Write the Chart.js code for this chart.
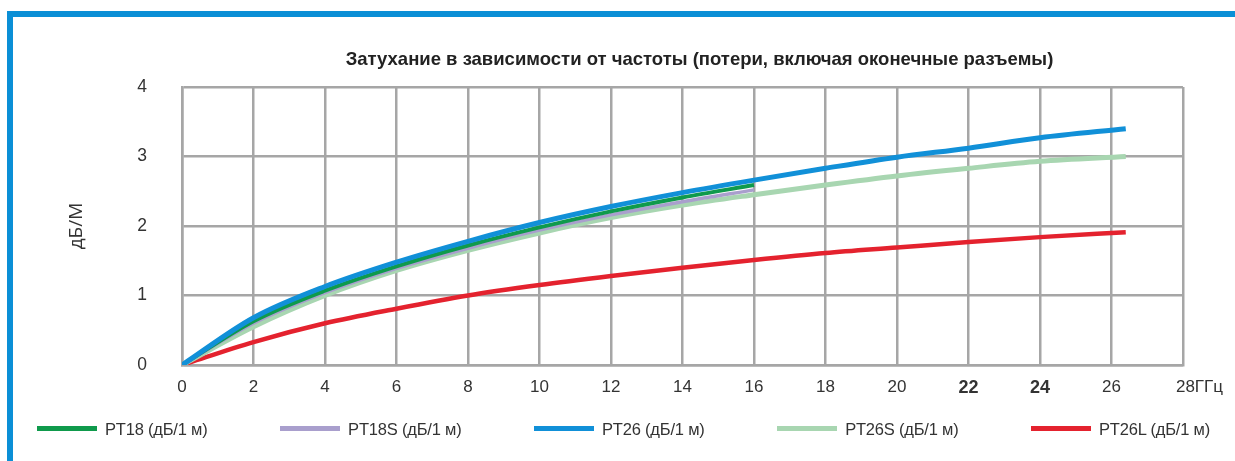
<!DOCTYPE html>
<html>
<head>
<meta charset="utf-8">
<script src="https://cdn.jsdelivr.net/npm/chart.js@4.4.1/dist/chart.umd.min.js"></script>
<style>
  html, body { margin: 0; padding: 0; background: #fff; }
  body { width: 1235px; height: 461px; position: relative; overflow: hidden; font-family: "Liberation Sans", Arial, sans-serif; }
  .frame { position: absolute; left: 7px; top: 11px; width: 1300px; height: 500px; border-left: 6px solid #0b8fd6; border-top: 6px solid #0b8fd6; }
  .chart-box { position: absolute; left: 0; top: 0; width: 1235px; height: 461px; }
  .legend { position: absolute; left: 37px; right: 25px; top: 420px; display: flex; justify-content: space-between; }
  .legend-item { display: flex; align-items: center; font-size: 16.5px; color: #333; letter-spacing: -0.2px; }
  .legend-line { width: 60px; height: 5px; margin-right: 8px; margin-top: -3px; }
</style>
</head>
<body>
<div class="frame"></div>
<div class="chart-box"><canvas id="myChart" width="1235" height="461"></canvas></div>
<div class="legend" id="legend"></div>
<script>
// 데이터
const 제목 = 'Затухание в зависимости от частоты (потери, включая оконечные разъемы)';
const 세로축제목 = 'дБ/М';
const 계열이름 = ['PT18 (дБ/1 м)', 'PT18S (дБ/1 м)', 'PT26 (дБ/1 м)', 'PT26S (дБ/1 м)', 'PT26L (дБ/1 м)'];
const 계열색 = ['#0f9a4c', '#a99fcd', '#1190d8', '#a8d6b1', '#e4222e'];

// 주파수 (ГГц)
const 주파수18 = [0, 2, 4, 6, 8, 10, 12, 14, 16];
const 주파수26 = [0, 2, 4, 6, 8, 10, 12, 14, 16, 18, 20, 22, 24, 26.4];

const pt18 = [0, 0.63, 1.07, 1.42, 1.72, 1.98, 2.21, 2.41, 2.59];
const pt18s = [0, 0.6, 1.04, 1.39, 1.68, 1.94, 2.16, 2.35, 2.52];
const pt26 = [0, 0.68, 1.13, 1.48, 1.78, 2.05, 2.28, 2.48, 2.66, 2.83, 2.99, 3.12, 3.27, 3.40];
const pt26s = [0, 0.55, 1.0, 1.36, 1.65, 1.9, 2.12, 2.3, 2.45, 2.59, 2.72, 2.83, 2.93, 3.0];
const pt26l = [0, 0.33, 0.6, 0.81, 1.0, 1.15, 1.28, 1.4, 1.51, 1.61, 1.69, 1.77, 1.84, 1.91];

const x눈금 = [0, 2, 4, 6, 8, 10, 12, 14, 16, 18, 20, 22, 24, 26, 28];
const y눈금 = [0, 1, 2, 3, 4];

function 점만들기(xs, ys) {
    return xs.map((x, i) => ({ x: x, y: ys[i] }));
}

const 계열값 = [
    점만들기(주파수18, pt18),
    점만들기(주파수18, pt18s),
    점만들기(주파수26, pt26),
    점만들기(주파수26, pt26s),
    점만들기(주파수26, pt26l)
];
const 선굵기 = [4, 3.5, 5, 5, 4.5];
const 그리기순서 = [1, 2, 0, 3, 4];

// 제목은 차트영역 기준으로 직접 그림
const 제목플러그인 = {
    id: 'chartTitle',
    afterDraw(chart) {
        const c = chart.ctx;
        const a = chart.chartArea;
        c.save();
        c.font = 'bold 18.5px "Liberation Sans", Arial, sans-serif';
        c.fillStyle = '#222';
        c.textAlign = 'center';
        c.textBaseline = 'middle';
        c.fillText(제목, (a.left + a.right) / 2 + 17, 60);
        c.restore();
    }
};

const ctx = document.getElementById('myChart').getContext('2d');
const newChart = new Chart(ctx, {
    type: 'line',
    data: {
        datasets: 계열값.map((d, i) => ({
            label: 계열이름[i],
            data: d,
            borderColor: 계열색[i],
            backgroundColor: 계열색[i],
            borderWidth: 선굵기[i],
            pointRadius: 0,
            tension: 0.4,
            cubicInterpolationMode: 'monotone',
            borderCapStyle: 'butt',
            order: 그리기순서[i]
        }))
    },
    options: {
        responsive: false,
        animation: false,
        layout: { padding: { left: 62, right: 40, top: 87, bottom: 61 } },
        plugins: {
            legend: { display: false },
            title: { display: false },
            tooltip: { enabled: false }
        },
        scales: {
            x: {
                type: 'linear',
                min: 0,
                max: 28,
                afterBuildTicks: s => { s.ticks = x눈금.map(v => ({ value: v })); },
                afterFit: s => { s.height = 35; },
                grid: { color: '#a6a6a6', lineWidth: 2.5, drawTicks: false },
                border: { color: '#a6a6a6', width: 2.5 },
                ticks: {
                    padding: 12,
                    color: '#333',
                    maxRotation: 0,
                    autoSkip: false,
                    font: c => ({
                        family: '"Liberation Sans", Arial, sans-serif',
                        size: (c.tick && (c.tick.value === 22 || c.tick.value === 24)) ? 18 : 17,
                        weight: (c.tick && (c.tick.value === 22 || c.tick.value === 24)) ? 'bold' : 'normal'
                    }),
                    callback: v => v === 28 ? '       28ГГц' : String(v)
                }
            },
            y: {
                min: 0,
                max: 4,
                afterBuildTicks: s => { s.ticks = y눈금.map(v => ({ value: v })); },
                afterFit: s => { s.width = 120; },
                grid: { color: '#a6a6a6', lineWidth: 2.5, drawTicks: false },
                border: { color: '#a6a6a6', width: 2.5 },
                ticks: {
                    padding: 35,
                    color: '#333',
                    font: { family: '"Liberation Sans", Arial, sans-serif', size: 17.5 }
                },
                title: {
                    display: true,
                    text: 세로축제목,
                    color: '#333',
                    padding: { top: 3, bottom: 0 },
                    font: { family: '"Open Sans", "DejaVu Sans", sans-serif', size: 19 }
                }
            }
        }
    },
    plugins: [제목플러그인]
});

// 범례는 HTML로 만듦
const legendBox = document.getElementById('legend');
계열이름.forEach((name, i) => {
    const item = `<div class="legend-item"><span class="legend-line" style="background:${계열색[i]}"></span><span>${name}</span></div>`;
    legendBox.insertAdjacentHTML('beforeend', item);
});
</script>
</body>
</html>
